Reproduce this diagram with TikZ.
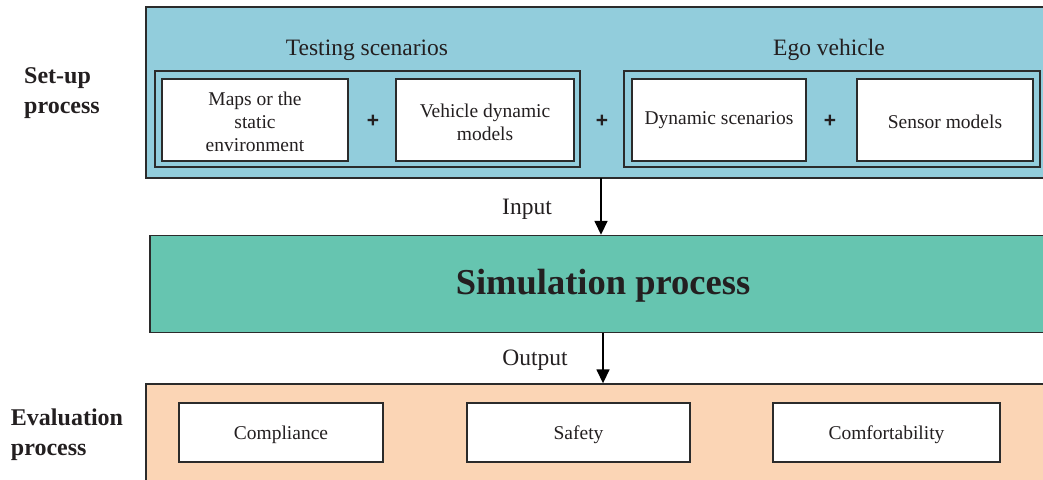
\documentclass[tikz,border=0pt]{standalone}
\usepackage{fontspec}
\setmainfont{Liberation Serif}
\setsansfont{Liberation Sans}
\usetikzlibrary{arrows.meta,positioning}
\definecolor{setupblue}{HTML}{92CDDC}
\definecolor{simgreen}{HTML}{66C5B0}
\definecolor{evalpeach}{HTML}{FBD5B5}
\definecolor{edge}{HTML}{2B2B2B}
\definecolor{ink}{HTML}{231F20}
\tikzset{%
	stage/.style    = {draw=edge, line width=1.4pt, rectangle, inner sep=0pt},
	group/.style    = {draw=edge, line width=1.1pt, rectangle, inner sep=0pt},
	item/.style     = {draw=edge, fill=white, line width=1.2pt, rectangle, inner sep=0pt},
	itemtext/.style = {align=center, text=ink, font=\fontsize{19.5}{23}\selectfont},
	plus/.style     = {text=ink, font=\fontsize{21}{24}\selectfont\sffamily\bfseries},
	heading/.style  = {text=ink, font=\fontsize{23.5}{27}\selectfont},
	side/.style     = {align=left, text=ink, font=\fontsize{24}{30}\selectfont\bfseries},
	arrow/.style    = {line width=1.6pt,-{Triangle[length=14pt,width=13pt]}},
}
\begin{document}
\begin{tikzpicture}[x=1pt,y=-1pt]
	\useasboundingbox (0,0) rectangle (1043,479);
	\clip (0,0) rectangle (1043,479);
	% stages
	\node [stage,fill=setupblue,minimum width=910,minimum height=171] (setup) at (601,92.5) {};
	\node [stage,fill=simgreen,minimum width=905,minimum height=97] (sim) at (602.5,284) {};
	\node [stage,fill=evalpeach,minimum width=910,minimum height=110] (eval) at (601,439) {};
	\node [text=ink,font=\fontsize{36.5}{40}\selectfont\bfseries] (simtext) at (603,286) {Simulation process};
	% set-up process
	\node [heading] (tsc) at (367,50) {Testing scenarios};
	\node [heading] (ego) at (829,50) {Ego vehicle};
	\node [group,minimum width=425,minimum height=96] (tsbox) at (367.5,119) {};
	\node [group,minimum width=416,minimum height=96] (egobox) at (832,119) {};
	\node [item,minimum width=186,minimum height=82] (maps) at (255,120) {};
	\node [item,minimum width=178,minimum height=82] (vdm) at (485,120) {};
	\node [item,minimum width=174,minimum height=82] (dyn) at (719,120) {};
	\node [item,minimum width=176,minimum height=82] (sens) at (945,120) {};
	\node [itemtext] (mapstext) at ([yshift=-2pt]maps.center) {Maps or the\\static\\environment};
	\node [itemtext] (vdmtext) at ([yshift=-2pt]vdm.center) {Vehicle dynamic\\models};
	\node [itemtext] (dyntext) at ([yshift=-0.5pt]dyn.center) {Dynamic scenarios};
	\node [itemtext] (senstext) at ([yshift=-2pt]sens.center) {Sensor models};
	\node [plus] (p1) at (373,121) {+};
	\node [plus] (p2) at (602,121) {+};
	\node [plus] (p3) at (830,121) {+};
	% evaluation process
	\node [item,minimum width=204,minimum height=59] (comp) at (281,432.5) {};
	\node [item,minimum width=223,minimum height=59] (safe) at (578.5,432.5) {};
	\node [item,minimum width=227,minimum height=59] (comf) at (886.5,432.5) {};
	\node [itemtext] (comptext) at ([yshift=-2pt]comp.center) {Compliance};
	\node [itemtext] (safetext) at ([yshift=-2pt]safe.center) {Safety};
	\node [itemtext] (comftext) at ([yshift=-2pt]comf.center) {Comfortability};
	% side labels
	\node [side] (lsetup) at (62,93) {Set-up\\process};
	\node [side] (leval) at (67,435) {Evaluation\\process};
	% flow
	\coordinate (in) at (601,178);
	\coordinate (out) at (603,333);
	\draw [arrow,draw=black] (in) -- (in |- sim.north);
	\draw [arrow,draw=black] (out) -- (out |- eval.north);
	\node [heading] (lin) at (527,209) {Input};
	\node [heading] (lout) at (535,360) {Output};
\end{tikzpicture}
\end{document}
